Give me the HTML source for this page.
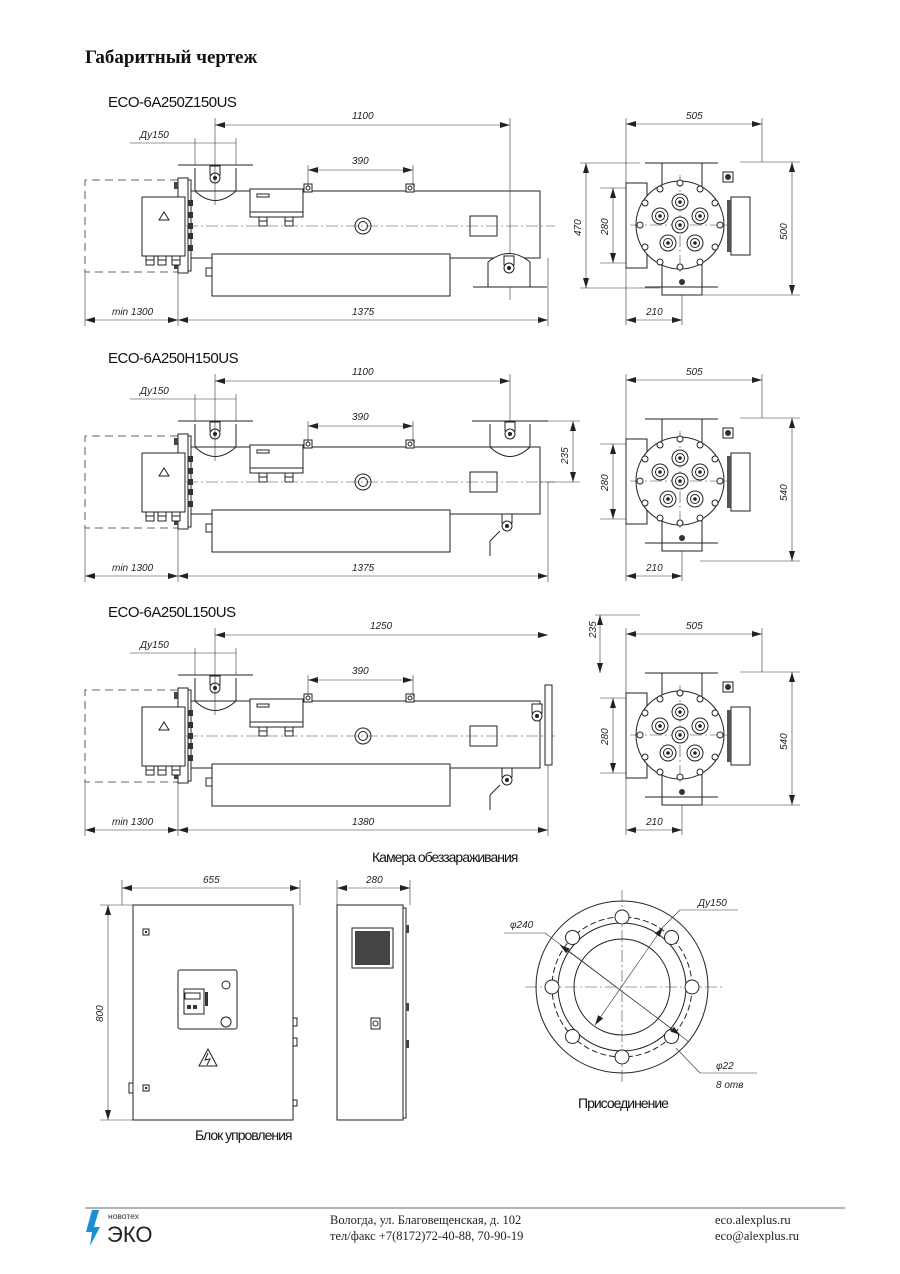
<!DOCTYPE html>
<html><head><meta charset="utf-8">
<style>
html,body{margin:0;padding:0;background:#fff;}
svg{display:block;}
.t{font-family:"Liberation Sans",sans-serif;font-style:italic;font-size:10px;fill:#222;}
.h{font-family:"Liberation Sans",sans-serif;font-size:15px;fill:#111;letter-spacing:-0.5px;}
.s{stroke:#222;stroke-width:1;fill:none;}
.sw{stroke:#222;stroke-width:1;fill:#fff;}
.d{stroke:#333;stroke-width:0.6;fill:none;}
.dash{stroke:#333;stroke-width:0.8;fill:none;stroke-dasharray:8,5;}
.cl{stroke:#444;stroke-width:0.6;fill:none;stroke-dasharray:12,3,2,3;}
.ft{font-family:"Liberation Serif",serif;font-size:12.5px;fill:#222;}
</style></head><body>
<svg width="900" height="1274" viewBox="0 0 900 1274" xmlns="http://www.w3.org/2000/svg">
<defs>
<marker id="a" viewBox="0 0 10 6" refX="10" refY="3" markerWidth="10" markerHeight="6" orient="auto-start-reverse" markerUnits="userSpaceOnUse"><path d="M0,0 L10,3 L0,6 z" fill="#222"/></marker>
<g id="lamp"><circle r="8" class="sw" stroke-width="3"/><circle r="4.5" class="s" stroke-width="1.5"/><circle r="1.8" fill="#222"/></g>
<g id="valve"><rect x="-5" y="-4" width="10" height="9" class="sw"/><circle cy="8" r="5" class="sw" stroke-width="2"/><circle cy="8" r="2" fill="#222"/></g>
<g id="gl"><rect x="-4" y="0" width="8" height="9" class="sw"/><line x1="-4" y1="4" x2="4" y2="4" class="s"/></g>
<g id="box">
 <polyline points="178,180 85,180 85,272 178,272" class="dash"/>
 <rect x="178" y="178" width="10" height="95" class="sw"/>
 <rect x="188" y="180" width="3" height="91" class="sw"/>
 <g fill="#444"><rect x="174" y="182" width="4" height="7"/><rect x="174" y="262" width="4" height="7"/></g>
 <rect x="142" y="197" width="43" height="59" class="sw"/>
 <path d="M159,220 l5,-8 l5,8 z" class="s"/>
 <g fill="#333"><rect x="188" y="200" width="5" height="6"/><rect x="188" y="212" width="5" height="6"/><rect x="188" y="223" width="5" height="6"/><rect x="188" y="233" width="5" height="6"/><rect x="188" y="245" width="5" height="6"/></g>
 <use href="#gl" x="150" y="256"/><use href="#gl" x="162" y="256"/><use href="#gl" x="176" y="256"/>
 <path d="M191,191 L540,191 L540,258 L191,258" class="s"/>
 <rect x="212" y="254" width="238" height="42" class="sw"/>
 <rect x="206" y="268" width="6" height="8" class="sw"/>
 <line x1="450" y1="258" x2="488" y2="258" class="s"/>
 <rect x="250" y="189" width="53" height="27" class="sw"/>
 <rect x="257" y="194" width="12" height="3" class="s"/>
 <rect x="250" y="212" width="53" height="5" class="sw"/>
 <use href="#gl" x="263" y="217"/><use href="#gl" x="289" y="217"/>
 <rect x="304" y="184" width="8" height="8" class="sw"/><circle cx="308" cy="188" r="2" class="s"/>
 <rect x="406" y="184" width="8" height="8" class="sw"/><circle cx="410" cy="188" r="2" class="s"/>
 <circle cx="363" cy="226" r="8" class="sw" stroke-width="1.5"/><circle cx="363" cy="226" r="4.5" class="s"/>
 <rect x="470" y="216" width="27" height="20" class="sw"/>
 <line x1="186" y1="226" x2="555" y2="226" class="cl"/>
 <path d="M195,191 L195,168 M236,168 L236,191 M195,191 Q215,210 236,191" class="s"/>
 <line x1="178" y1="165" x2="253" y2="165" class="s" stroke-width="2"/>
 <use href="#valve" x="215" y="170"/>
 <line x1="215" y1="150" x2="215" y2="205" class="d"/>
 <line x1="215" y1="118" x2="215" y2="150" class="d"/>
 <line x1="130" y1="143" x2="236" y2="143" class="d"/>
 <line x1="195" y1="138" x2="195" y2="165" class="d"/>
 <line x1="236" y1="138" x2="236" y2="165" class="d"/>
 <line x1="308" y1="165" x2="308" y2="186" class="d"/>
 <line x1="413" y1="165" x2="413" y2="186" class="d"/>
 <line x1="308" y1="170" x2="413" y2="170" class="d" marker-start="url(#a)" marker-end="url(#a)"/>
 <line x1="178" y1="272" x2="178" y2="326" class="d"/>
 <line x1="85" y1="272" x2="85" y2="326" class="d"/>
 <line x1="85" y1="320" x2="178" y2="320" class="d" marker-start="url(#a)" marker-end="url(#a)"/>
 <text class="t" x="112" y="315">min 1300</text>
</g>
<g id="end">
 <line x1="645" y1="163" x2="718" y2="163" class="s" stroke-width="2"/>
 <rect x="662" y="163" width="40" height="30" class="sw"/>
 <rect x="626" y="183" width="21" height="85" class="sw"/>
 <rect x="731" y="197" width="19" height="58" class="sw"/>
 <rect x="727" y="200" width="4" height="52" fill="#555"/>
 <rect x="662" y="258" width="40" height="37" class="sw"/>
 <line x1="645" y1="287" x2="718" y2="287" class="s" stroke-width="2"/>
 <circle cx="680" cy="225" r="44" class="sw"/>
 <line x1="680" y1="175" x2="680" y2="275" class="cl"/>
 <line x1="630" y1="225" x2="730" y2="225" class="cl"/>
 <g class="sw"><circle cx="680" cy="183" r="3"/><circle cx="660" cy="189" r="3"/><circle cx="700" cy="189" r="3"/><circle cx="645" cy="203" r="3"/><circle cx="715" cy="203" r="3"/><circle cx="640" cy="225" r="3"/><circle cx="720" cy="225" r="3"/><circle cx="645" cy="247" r="3"/><circle cx="715" cy="247" r="3"/><circle cx="660" cy="262" r="3"/><circle cx="700" cy="262" r="3"/><circle cx="680" cy="267" r="3"/></g>
 <circle cx="682" cy="282" r="3" fill="#333"/>
 <use href="#lamp" x="680" y="202"/><use href="#lamp" x="660" y="216"/><use href="#lamp" x="700" y="216"/><use href="#lamp" x="680" y="225"/><use href="#lamp" x="668" y="243"/><use href="#lamp" x="695" y="243"/>
 <rect x="723" y="172" width="10" height="10" class="sw"/><circle cx="728" cy="177" r="3" fill="#333"/>
 <line x1="626" y1="118" x2="626" y2="325" class="d"/>
 <line x1="762" y1="118" x2="762" y2="162" class="d"/>
 <line x1="626" y1="124" x2="762" y2="124" class="d" marker-start="url(#a)" marker-end="url(#a)"/>
 <text class="t" x="686" y="119">505</text>
 <line x1="682" y1="295" x2="682" y2="325" class="d"/>
 <line x1="626" y1="320" x2="682" y2="320" class="d" marker-start="url(#a)" marker-end="url(#a)"/>
 <text class="t" x="646" y="315">210</text>
 <line x1="600" y1="188" x2="626" y2="188" class="d"/>
 <line x1="600" y1="263" x2="626" y2="263" class="d"/>
 <line x1="613" y1="188" x2="613" y2="263" class="d" marker-start="url(#a)" marker-end="url(#a)"/>
 <text class="t" transform="translate(608,235) rotate(-90)">280</text>
</g>
</defs>

<text x="85" y="63" style="font-family:'Liberation Serif',serif;font-weight:bold;font-size:19px;fill:#111">Габаритный чертеж</text>

<text class="h" x="108" y="107">ECO-6A250Z150US</text>
<use href="#box"/>
<line x1="215" y1="125" x2="510" y2="125" class="d" marker-start="url(#a)" marker-end="url(#a)"/>
<text class="t" x="352" y="119">1100</text>
<line x1="510" y1="118" x2="510" y2="300" class="d"/>
<text class="t" x="140" y="138">Ду150</text>
<text class="t" x="352" y="164">390</text>
<path d="M488,287 L488,262 Q509,245 530,262 L530,287" class="sw"/>
<line x1="473" y1="287" x2="547" y2="287" class="s" stroke-width="2"/>
<use href="#valve" x="509" y="260"/>
<line x1="548" y1="258" x2="548" y2="326" class="d"/>
<line x1="178" y1="320" x2="548" y2="320" class="d" marker-start="url(#a)" marker-end="url(#a)"/>
<text class="t" x="352" y="315">1375</text>
<use href="#end"/>
<line x1="580" y1="163" x2="640" y2="163" class="d"/>
<line x1="580" y1="288" x2="660" y2="288" class="d"/>
<line x1="586" y1="163" x2="586" y2="288" class="d" marker-start="url(#a)" marker-end="url(#a)"/>
<text class="t" transform="translate(581,236) rotate(-90)">470</text>
<line x1="740" y1="162" x2="800" y2="162" class="d"/>
<line x1="700" y1="295" x2="800" y2="295" class="d"/>
<line x1="792" y1="162" x2="792" y2="295" class="d" marker-start="url(#a)" marker-end="url(#a)"/>
<text class="t" transform="translate(787,240) rotate(-90)">500</text>

<text class="h" x="108" y="363">ECO-6A250H150US</text>
<g transform="translate(0,256)"><use href="#box"/>
<line x1="215" y1="125" x2="510" y2="125" class="d" marker-start="url(#a)" marker-end="url(#a)"/>
<text class="t" x="352" y="119">1100</text>
<line x1="510" y1="118" x2="510" y2="170" class="d"/>
<text class="t" x="140" y="138">Ду150</text>
<text class="t" x="352" y="164">390</text>
<path d="M490,191 L490,168 M530,168 L530,191 M490,191 Q510,210 530,191" class="s"/>
<line x1="472" y1="165" x2="548" y2="165" class="s" stroke-width="2"/>
<use href="#valve" x="510" y="170"/>
<line x1="548" y1="165" x2="580" y2="165" class="d"/><line x1="540" y1="226" x2="580" y2="226" class="d"/>
<line x1="573" y1="165" x2="573" y2="226" class="d" marker-start="url(#a)" marker-end="url(#a)"/>
<text class="t" transform="translate(568,208) rotate(-90)">235</text>
<use href="#valve" x="507" y="262"/><line x1="500" y1="275" x2="490" y2="285" class="s"/><line x1="490" y1="285" x2="490" y2="300" class="s"/>
<line x1="548" y1="226" x2="548" y2="326" class="d"/>
<line x1="178" y1="320" x2="548" y2="320" class="d" marker-start="url(#a)" marker-end="url(#a)"/>
<text class="t" x="352" y="315">1375</text>
<use href="#end"/>
<line x1="740" y1="162" x2="800" y2="162" class="d"/>
<line x1="700" y1="305" x2="800" y2="305" class="d"/>
<line x1="792" y1="162" x2="792" y2="305" class="d" marker-start="url(#a)" marker-end="url(#a)"/>
<text class="t" transform="translate(787,245) rotate(-90)">540</text>
</g>

<text class="h" x="108" y="617">ECO-6A250L150US</text>
<g transform="translate(0,510)"><use href="#box"/>
<line x1="215" y1="125" x2="548" y2="125" class="d" marker-start="url(#a)" marker-end="url(#a)"/>
<text class="t" x="370" y="119">1250</text>
<text class="t" x="140" y="138">Ду150</text>
<text class="t" x="352" y="164">390</text>
<rect x="545" y="175" width="7" height="80" class="sw"/>
<use href="#valve" x="537" y="198"/>
<use href="#valve" x="507" y="262"/><line x1="500" y1="275" x2="490" y2="285" class="s"/><line x1="490" y1="285" x2="490" y2="300" class="s"/>
<line x1="548" y1="255" x2="548" y2="326" class="d"/>
<line x1="178" y1="320" x2="548" y2="320" class="d" marker-start="url(#a)" marker-end="url(#a)"/>
<text class="t" x="352" y="315">1380</text>
<use href="#end"/>
<line x1="595" y1="105" x2="640" y2="105" class="d"/>
<line x1="600" y1="105" x2="600" y2="163" class="d" marker-start="url(#a)" marker-end="url(#a)"/>
<text class="t" transform="translate(596,128) rotate(-90)">235</text>
<line x1="740" y1="162" x2="800" y2="162" class="d"/>
<line x1="700" y1="295" x2="800" y2="295" class="d"/>
<line x1="792" y1="162" x2="792" y2="295" class="d" marker-start="url(#a)" marker-end="url(#a)"/>
<text class="t" transform="translate(787,240) rotate(-90)">540</text>
</g>

<text class="h" x="372" y="862" style="font-size:14px;letter-spacing:-1px">Камера обеззараживания</text>

<line x1="122" y1="880" x2="122" y2="905" class="d"/><line x1="300" y1="880" x2="300" y2="905" class="d"/>
<line x1="122" y1="888" x2="300" y2="888" class="d" marker-start="url(#a)" marker-end="url(#a)"/>
<text class="t" x="203" y="883">655</text>
<line x1="100" y1="905" x2="133" y2="905" class="d"/><line x1="100" y1="1120" x2="133" y2="1120" class="d"/>
<line x1="108" y1="905" x2="108" y2="1120" class="d" marker-start="url(#a)" marker-end="url(#a)"/>
<text class="t" transform="translate(103,1022) rotate(-90)">800</text>
<rect x="133" y="905" width="160" height="215" class="sw"/>
<rect x="143" y="929" width="6" height="6" class="sw"/><rect x="145" y="931" width="2" height="2" fill="#222"/>
<rect x="143" y="1085" width="6" height="6" class="sw"/><rect x="145" y="1087" width="2" height="2" fill="#222"/>
<rect x="178" y="970" width="59" height="59" class="sw" rx="2"/>
<rect x="184" y="989" width="20" height="25" class="sw"/><rect x="185" y="993" width="15" height="6" class="s"/>
<rect x="187" y="1005" width="4" height="4" fill="#333"/><rect x="193" y="1005" width="4" height="4" fill="#333"/>
<rect x="205" y="992" width="3" height="14" fill="#333"/>
<circle cx="226" cy="985" r="4" class="s"/><circle cx="226" cy="1022" r="5" class="s"/>
<path d="M199,1066 L208,1049 L217,1066 Z" class="s" stroke-width="1.5"/><path d="M208,1053 L205,1060 L210,1059 L207,1065" class="s"/>
<rect x="293" y="1018" width="4" height="8" class="sw"/><rect x="293" y="1038" width="4" height="8" class="sw"/><rect x="293" y="1100" width="4" height="6" class="sw"/>
<rect x="129" y="1083" width="4" height="10" class="sw"/>
<text class="h" x="195" y="1140" style="font-size:14px;letter-spacing:-1px">Блок упровления</text>

<line x1="337" y1="880" x2="337" y2="905" class="d"/><line x1="410" y1="880" x2="410" y2="905" class="d"/>
<line x1="337" y1="888" x2="410" y2="888" class="d" marker-start="url(#a)" marker-end="url(#a)"/>
<text class="t" x="366" y="883">280</text>
<rect x="337" y="905" width="66" height="215" class="sw"/>
<rect x="403" y="908" width="3" height="210" class="sw"/>
<rect x="352" y="928" width="41" height="40" class="sw" stroke-width="1.5"/>
<rect x="355" y="931" width="35" height="34" fill="#444"/>
<rect x="371" y="1018" width="9" height="11" class="sw"/><circle cx="375.5" cy="1023.5" r="2.5" class="s"/>
<rect x="406" y="925" width="3" height="8" fill="#444"/><rect x="406" y="1003" width="3" height="8" fill="#444"/><rect x="406" y="1040" width="3" height="8" fill="#444"/>

<g>
<line x1="525" y1="987" x2="725" y2="987" class="cl"/>
<line x1="622" y1="890" x2="622" y2="1085" class="cl"/>
<circle cx="622" cy="987" r="86" class="s"/>
<circle cx="622" cy="987" r="70" class="s" stroke-dasharray="6,3"/>
<circle cx="622" cy="987" r="64" class="s" stroke-width="1.8"/>
<circle cx="622" cy="987" r="48" class="s"/>
<g class="sw"><circle cx="622" cy="917" r="7"/><circle cx="622" cy="1057" r="7"/><circle cx="552" cy="987" r="7"/><circle cx="692" cy="987" r="7"/><circle cx="572.5" cy="937.5" r="7"/><circle cx="671.5" cy="937.5" r="7"/><circle cx="572.5" cy="1036.5" r="7"/><circle cx="671.5" cy="1036.5" r="7"/></g>
<line x1="504" y1="933" x2="545" y2="933" class="d"/>
<line x1="545" y1="933" x2="689" y2="1042" class="d"/>
<line x1="560" y1="945" x2="680" y2="1035" class="d" marker-start="url(#a)" marker-end="url(#a)"/>
<line x1="595" y1="1025" x2="663" y2="927" class="d" marker-start="url(#a)" marker-end="url(#a)"/>
<line x1="663" y1="927" x2="680" y2="910" class="d"/><line x1="680" y1="910" x2="738" y2="910" class="d"/>
<line x1="676" y1="1048" x2="700" y2="1073" class="d"/><line x1="700" y1="1073" x2="757" y2="1073" class="d"/>
<text class="t" x="510" y="928">φ240</text>
<text class="t" x="698" y="906">Ду150</text>
<text class="t" x="716" y="1069">φ22</text>
<text class="t" x="716" y="1088">8 отв</text>
</g>
<text class="h" x="578" y="1108" style="font-size:14px;letter-spacing:-1px">Присоединение</text>

<line x1="85" y1="1208" x2="845" y2="1208" stroke="#888" stroke-width="1.2"/>
<path d="M92,1210 L99,1210 L94,1227 L100,1227 L90,1246 L92,1232 L86,1232 Z" fill="#1a8fd6"/>
<text x="108" y="1219" style="font-family:'Liberation Sans',sans-serif;font-size:8.5px;fill:#333">новотех</text>
<text x="107" y="1242" style="font-family:'Liberation Sans',sans-serif;font-size:22px;fill:#222">ЭКО</text>
<text class="ft" x="330" y="1224">Вологда, ул. Благовещенская, д. 102</text>
<text class="ft" x="330" y="1240">тел/факс +7(8172)72-40-88, 70-90-19</text>
<text class="ft" x="715" y="1224">eco.alexplus.ru</text>
<text class="ft" x="715" y="1240">eco@alexplus.ru</text>
</svg>
</body></html>
